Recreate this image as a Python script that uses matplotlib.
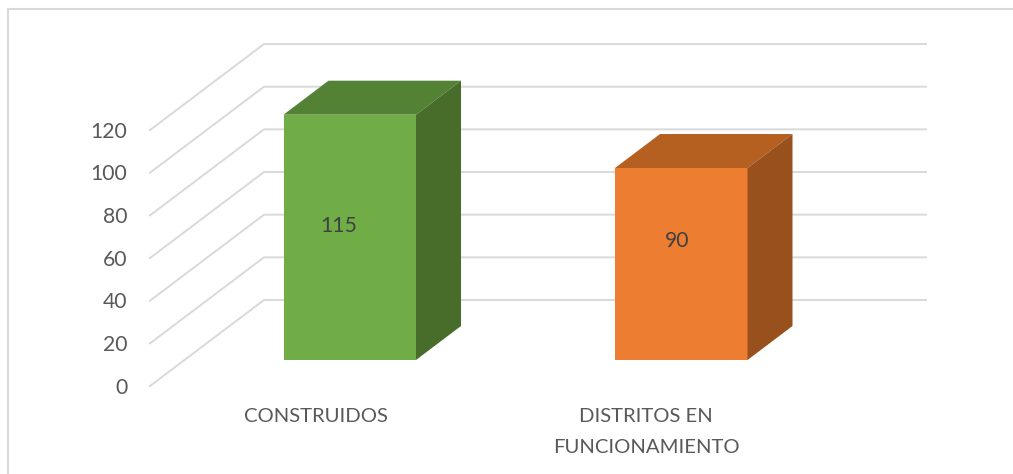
import matplotlib
matplotlib.use("Agg")
import matplotlib.pyplot as plt
from matplotlib.patches import Polygon, Rectangle

categories = ["CONSTRUIDOS", "DISTRITOS EN\nFUNCIONAMIENTO"]
values = [115, 90]
front_colors = ["#70AD47", "#ED7D31"]
top_colors = ["#548235", "#B55F21"]
side_colors = ["#486C29", "#98501C"]
ticks = [0, 20, 40, 60, 80, 100, 120]

plt.rcParams['font.family'] = ['Lato', 'DejaVu Sans']
TEXT = "#595959"
GRID = "#D9D9D9"

# 1 x unit = 1 pixel, y in data units, 0 sits at pixel row 386
W, H = 1013, 474
PX = 2.133
Y0 = 386
fig = plt.figure(figsize=(W / 100, H / 100), dpi=100)
ax = fig.add_axes([0, 0, 1, 1])
ax.set_xlim(0, W)
ax.set_ylim((Y0 - H) / PX, Y0 / PX)
ax.axis('off')

# depth of the box and of the wall
wall_x, wall_y = 114, 86 / PX
depth_x, depth_y = 45, 34 / PX
floor = 26 / PX
front_x = 150
right_x = 926
bar_left = [283.5, 615]
bar_w = 132.5
# label placement, relative to the bar
value_dx = [-11, -4]
value_dy = [11, 23]
cat_dx = [-34, -35]

# chart border, open on the right
ax.add_patch(Rectangle((8, (Y0 - H - 10) / PX), W + 20, (H + 1) / PX,
                       fill=False, ec="#D9D9D9", lw=1.5, clip_on=True))

# gridlines, floor and wall
for t in ticks:
    ax.plot([front_x, front_x + wall_x, right_x], [t, t + wall_y, t + wall_y],
            color=GRID, lw=1.4, solid_joinstyle='miter', zorder=1)
    ax.text(127.5, t - 1.5 / PX, str(t), ha='right', va='center', fontsize=15.2, color=TEXT)

# bars, with top and side faces built from the value
for i in range(len(values)):
    x0 = bar_left[i]
    x1 = x0 + bar_w
    v = values[i]
    ax.bar(x0, v, bar_w, bottom=floor, align='edge', color=front_colors[i], zorder=3)
    ax.add_patch(Polygon([(x0, floor + v), (x1, floor + v),
                          (x1 + depth_x, floor + v + depth_y), (x0 + depth_x, floor + v + depth_y)],
                         closed=True, fc=top_colors[i], ec='none', zorder=3))
    ax.add_patch(Polygon([(x1, floor), (x1 + depth_x, floor + depth_y),
                          (x1 + depth_x, floor + v + depth_y), (x1, floor + v)],
                         closed=True, fc=side_colors[i], ec='none', zorder=3))
    ax.text(x0 + bar_w / 2 + value_dx[i], floor + v / 2 + value_dy[i] / PX, str(v),
            ha='center', va='center', fontsize=15.2, color="#404040", zorder=4)
    ax.text(x0 + bar_w / 2 + cat_dx[i], (Y0 - 408) / PX, categories[i],
            ha='center', va='top', fontsize=14.6, color=TEXT, linespacing=1.98)

fig.savefig("out.png", dpi=100)
